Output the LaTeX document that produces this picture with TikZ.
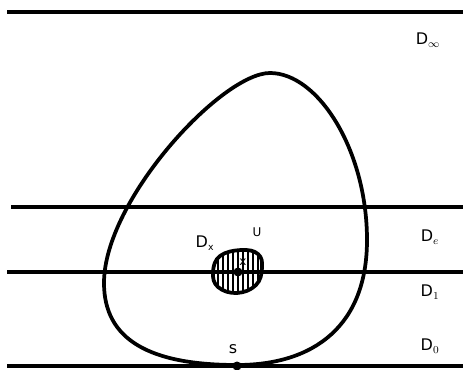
\documentclass[tikz,border=0pt]{standalone}
\usepackage{fontspec}
\setmainfont{DejaVu Sans}
\begin{document}
\begin{tikzpicture}[x=0.75pt,y=-0.75pt,
  thick line/.style={line width=3pt},
  lbl/.style={font=\fontsize{12}{14}\selectfont, inner sep=0pt}]
\useasboundingbox (0,0) rectangle (463,370);
% horizontal lines
\coordinate (ainf) at (7,12);   \coordinate (binf) at (463,12);
\coordinate (ae) at (11,207);   \coordinate (be) at (463,207);
\coordinate (a1) at (7,272);    \coordinate (b1) at (463,272);
\coordinate (a0) at (7,366);    \coordinate (b0) at (463,366);
\draw[thick line] (ainf) -- (binf);
\draw[thick line] (ae) -- (be);
\draw[thick line] (a1) -- (b1);
\draw[thick line] (a0) -- (b0);
% big closed curve
\draw[line width=2.8pt] (270,73) .. controls (222,73) and (104,200) .. (104,283)
  .. controls (104,340) and (150,365) .. (237,365)
  .. controls (315,365) and (367,325) .. (367,240)
  .. controls (367,150) and (318,73) .. (270,73) -- cycle;
% small oval with hatching
\begin{scope}
\clip plot[smooth cycle, tension=0.7] coordinates {
  (213,272) (220,256) (241,250) (258,254) (262,268) (256,285) (237,293) (218,287)};
\foreach \xx in {218,223,...,260} \draw[line width=0.8pt] (\xx,245) -- (\xx,300);
\end{scope}
\draw[line width=2.8pt] plot[smooth cycle, tension=0.7] coordinates {
  (213,272) (220,256) (241,250) (258,254) (262,268) (256,285) (237,293) (218,287)};
\fill (238,272) circle (4.5);
\node[font=\fontsize{9}{10}\selectfont, inner sep=0pt] (xm) at (243,262) {x};
% dot at s
\fill (237,366) circle (4.5);
% labels
\node[lbl] (dinf) at (428,40) {D$_\infty$};
\node[lbl] (de) at (430,237) {D$_e$};
\node[lbl] (d1) at (430,292) {D$_1$};
\node[lbl] (d0) at (430,346) {D$_0$};
\node[lbl] (dx) at (205,243) {D\textsubscript{\fontsize{7}{8}\selectfont x}};
\node[font=\fontsize{9}{10}\selectfont, inner sep=0pt] (u) at (257,232) {U};
\node[lbl] (s) at (233,349) {s};
\end{tikzpicture}
\end{document}
